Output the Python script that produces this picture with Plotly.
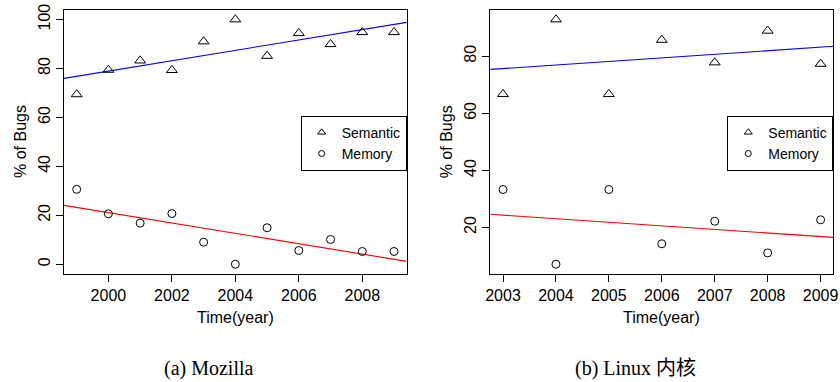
import numpy as np
import plotly.graph_objects as go

# ---- data ----
moz_years = [1999, 2000, 2001, 2002, 2003, 2004, 2005, 2006, 2007, 2008, 2009]
moz_semantic = [69.4, 79.4, 83.2, 79.3, 91.0, 100.0, 85.1, 94.4, 89.9, 94.8, 94.8]
moz_memory = [30.6, 20.6, 16.8, 20.7, 9.0, 0.0, 14.9, 5.6, 10.1, 5.2, 5.2]

lin_years = [2003, 2004, 2005, 2006, 2007, 2008, 2009]
lin_semantic = [66.7, 92.86, 66.7, 85.7, 77.8, 88.9, 77.3]
lin_memory = [33.3, 7.14, 33.3, 14.3, 22.2, 11.1, 22.7]

moz_xticks = [2000, 2002, 2004, 2006, 2008]
moz_yticks = [0, 20, 40, 60, 80, 100]
lin_xticks = [2003, 2004, 2005, 2006, 2007, 2008, 2009]
lin_yticks = [20, 40, 60, 80]

series_names = ["Semantic", "Memory"]
captions = ["(a) Mozilla", "(b) Linux 内核"]
x_title = "Time(year)"
y_title = "% of Bugs"

W, H = 840, 382
FONT = "Liberation Sans, Arial, Helvetica, sans-serif"
SERIF = "Liberation Serif, Times New Roman, Noto Sans CJK SC, serif"


def r_range(vals):
    lo, hi = min(vals), max(vals)
    d = (hi - lo) * 0.04
    return [lo - d, hi + d]


def px(v):
    return v / W


def py(v):
    return 1 - v / H


fig = go.Figure()

panels = [
    dict(x=moz_years, s=moz_semantic, m=moz_memory, xt=moz_xticks, yt=moz_yticks,
         ax="x", ay="y", dom=[px(64), px(406.7)], leg="legend"),
    dict(x=lin_years, s=lin_semantic, m=lin_memory, xt=lin_xticks, yt=lin_yticks,
         ax="x2", ay="y2", dom=[px(490.3), px(833.3)], leg="legend2"),
]

ydom = [py(274), py(9.7)]

for i, p in enumerate(panels):
    xr = r_range(p["x"])
    yr = r_range(p["s"] + p["m"])
    xs = np.array(p["x"], dtype=float)
    # regression lines across full axis extent
    for vals, col in ((p["s"], "#0000FF"), (p["m"], "#FF0000")):
        k, b = np.polyfit(xs, np.array(vals, dtype=float), 1)
        lx = np.array(xr)
        fig.add_trace(go.Scatter(x=lx, y=k * lx + b, mode="lines",
                                 line=dict(color=col, width=1.1),
                                 xaxis=p["ax"], yaxis=p["ay"], showlegend=False,
                                 hoverinfo="skip"))
    fig.add_trace(go.Scatter(x=p["x"], y=p["s"], mode="markers",
                             marker=dict(symbol="triangle-up-open", size=9.5,
                                         color="black", line=dict(width=1, color="black")),
                             xaxis=p["ax"], yaxis=p["ay"], showlegend=False, cliponaxis=False))
    fig.add_trace(go.Scatter(x=p["x"], y=p["m"], mode="markers",
                             marker=dict(symbol="circle-open", size=8,
                                         color="black", line=dict(width=1, color="black")),
                             xaxis=p["ax"], yaxis=p["ay"], showlegend=False, cliponaxis=False))
    # legend-only entries (smaller symbols as in reference legend)
    fig.add_trace(go.Scatter(x=[None], y=[None], mode="markers", name=series_names[0],
                             marker=dict(symbol="triangle-up-open", size=7, color="black",
                                         line=dict(width=1, color="black")),
                             xaxis=p["ax"], yaxis=p["ay"], legend=p["leg"]))
    fig.add_trace(go.Scatter(x=[None], y=[None], mode="markers", name=series_names[1],
                             marker=dict(symbol="circle-open", size=6, color="black",
                                         line=dict(width=1, color="black")),
                             xaxis=p["ax"], yaxis=p["ay"], legend=p["leg"]))

    axis_common = dict(showline=True, linecolor="black", linewidth=1, mirror=True,
                       ticks="outside", ticklen=7, tickcolor="black", tickwidth=1,
                       showgrid=False, zeroline=False, automargin=False,
                       tickfont=dict(family=FONT, size=16, color="black"))
    xname = "xaxis" if i == 0 else "xaxis2"
    yname = "yaxis" if i == 0 else "yaxis2"
    fig.update_layout(**{
        xname: dict(domain=p["dom"], range=xr, tickmode="array", tickvals=p["xt"],
                    anchor=p["ay"], **axis_common),
        yname: dict(domain=ydom, range=yr, tickmode="array", tickvals=p["yt"],
                    anchor=p["ax"], tickangle=-90, **axis_common),
    })
    cx = (p["dom"][0] + p["dom"][1]) / 2
    fig.add_annotation(x=cx, y=py(317.7), xref="paper", yref="paper", text=x_title,
                       showarrow=False, font=dict(family=FONT, size=16, color="black"),
                       xanchor="center", yanchor="middle")
    fig.add_annotation(x=p["dom"][0] - px(44), y=py(142), xref="paper", yref="paper",
                       text=y_title, textangle=-90, showarrow=False,
                       font=dict(family=FONT, size=16, color="black"),
                       xanchor="center", yanchor="middle")
    fig.add_annotation(x=cx - px(26), y=py(368), xref="paper", yref="paper", text=captions[i],
                       showarrow=False, font=dict(family=SERIF, size=20, color="black"),
                       xanchor="center", yanchor="middle")

leg_common = dict(bordercolor="black", borderwidth=1, bgcolor="white",
                  font=dict(family=FONT, size=14, color="black"),
                  xanchor="right", yanchor="top", itemwidth=30,
                  tracegroupgap=0)
fig.update_layout(
    legend=dict(x=px(406.7), y=py(115.7), **leg_common),
    legend2=dict(x=px(833.3), y=py(115.7), **leg_common),
    width=W, height=H, margin=dict(l=0, r=0, t=0, b=0, autoexpand=False),
    paper_bgcolor="white", plot_bgcolor="white", showlegend=True,
)

fig.write_html("out.html", config={"displayModeBar": False},
               post_script="document.body.style.margin='0px';document.body.style.overflow='hidden';")
